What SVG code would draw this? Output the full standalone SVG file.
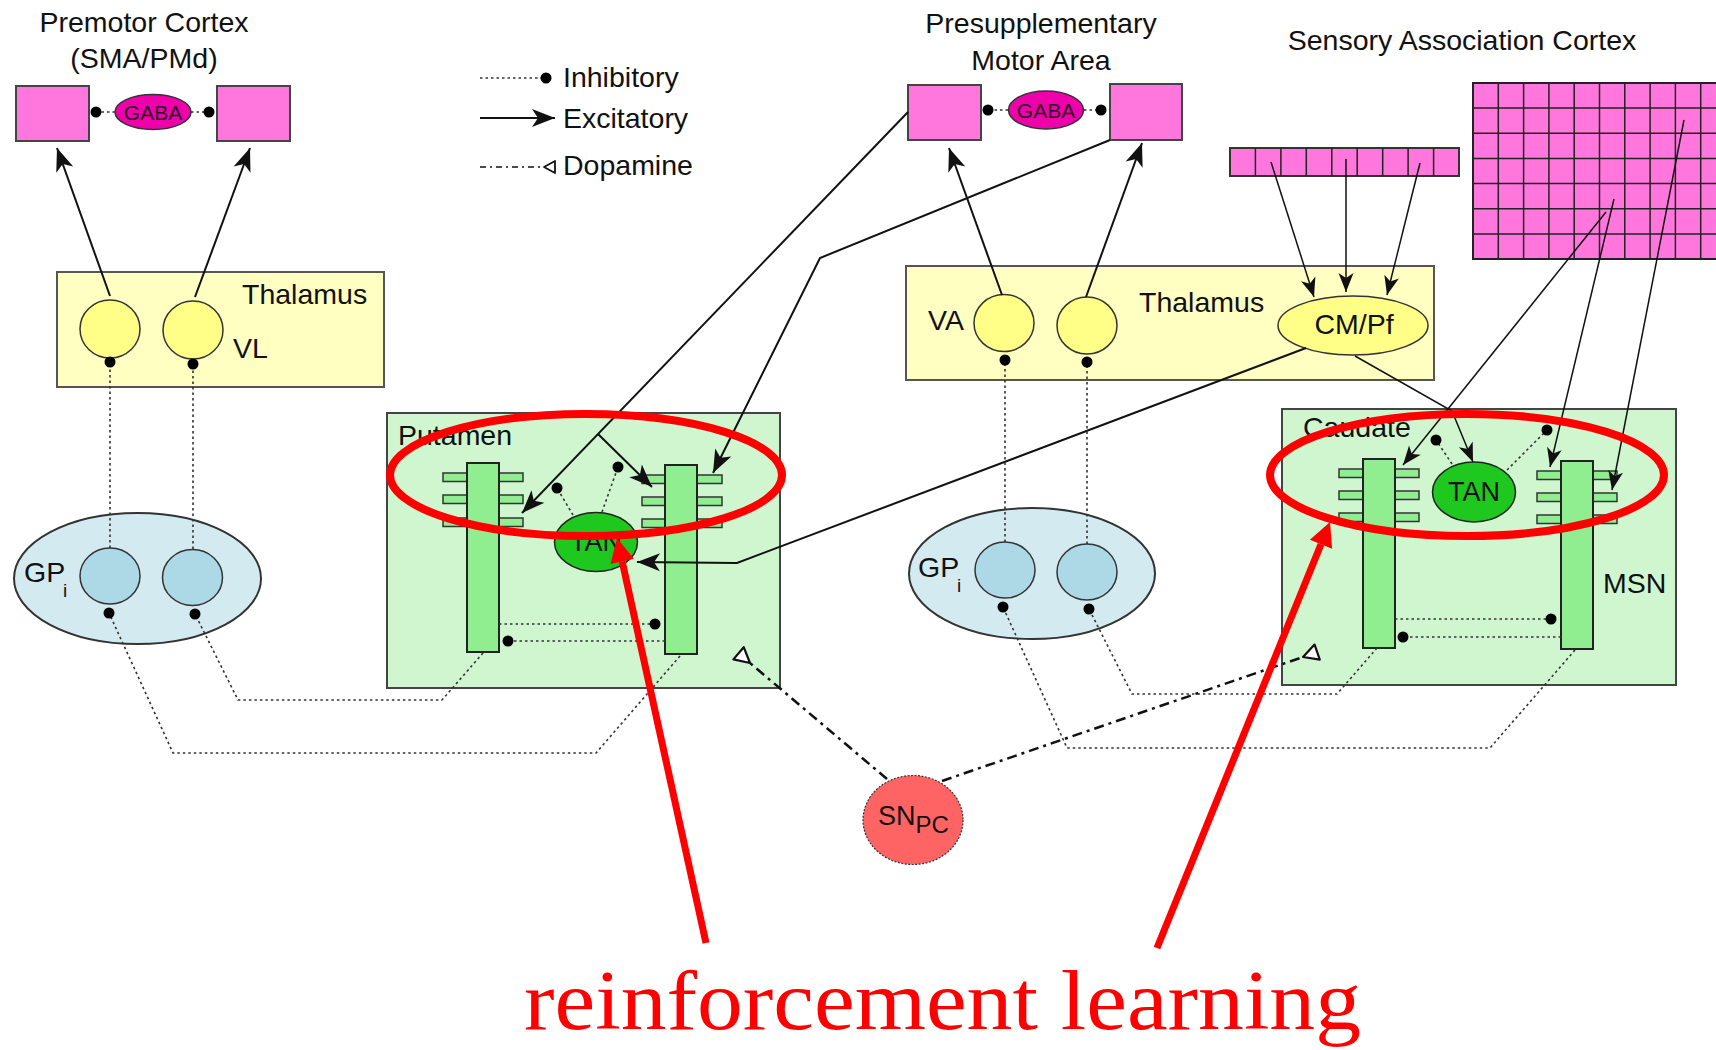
<svg xmlns="http://www.w3.org/2000/svg" width="1716" height="1050" viewBox="0 0 1716 1050">
<style>
text{font-family:"Liberation Sans",Arial,sans-serif;fill:#111}
.lbl{font-size:28.5px}
.ctr{text-anchor:middle}
.ctx{fill:#ff77dd;stroke:#444;stroke-width:2}
.gaba{fill:#ee00aa;stroke:#333;stroke-width:1.5}
.gabat{font-size:21px;fill:#2a0022;text-anchor:middle}
.thal{fill:#ffffc2;stroke:#555;stroke-width:2}
.ycell{fill:#ffff88;stroke:#333;stroke-width:1.5}
.str{fill:#d0f6d0;stroke:#444;stroke-width:2}
.bar{fill:#90ee90;stroke:#222;stroke-width:2}
.sp{fill:#90ee90;stroke:#333;stroke-width:1.5}
.tan{fill:#1fc81f;stroke:#222;stroke-width:1.5}
.gpi{fill:#d4eaf1;stroke:#333;stroke-width:2}
.gcell{fill:#add8e6;stroke:#333;stroke-width:1.5}
.grid{stroke:#222;stroke-width:1.5;fill:none}
.exc{stroke:#111;stroke-width:2;fill:none;marker-end:url(#arr)}
.exc2{stroke:#111;stroke-width:1.5;fill:none;marker-end:url(#arr2)}
.inh{stroke:#333;stroke-width:1.6;stroke-dasharray:2.5 3;fill:none;marker-end:url(#dot)}
.dop{stroke:#111;stroke-width:2.5;stroke-dasharray:10 5 3 5;fill:none;marker-end:url(#da)}
.red{stroke:#ff0000;stroke-width:8;fill:none}
.redar{stroke:#ff0000;stroke-width:7;fill:none;marker-end:url(#rarr)}
</style>
<defs>
<marker id="arr" markerUnits="userSpaceOnUse" markerWidth="26" markerHeight="22" viewBox="-25 -11 26 22" refX="0" refY="0" orient="auto"><path d="M0,0 L-23,-9 L-17,0 L-23,9 Z" fill="#111"/></marker>
<marker id="arr2" markerUnits="userSpaceOnUse" markerWidth="22" markerHeight="18" viewBox="-21 -9 22 18" refX="0" refY="0" orient="auto"><path d="M0,0 L-19,-7.5 L-14,0 L-19,7.5 Z" fill="#111"/></marker>
<marker id="dot" markerUnits="userSpaceOnUse" markerWidth="14" markerHeight="14" viewBox="-7 -7 14 14" refX="0" refY="0"><circle r="5.5" fill="#000"/></marker>
<marker id="da" markerUnits="userSpaceOnUse" markerWidth="20" markerHeight="20" viewBox="-2 -10 20 20" refX="0" refY="0" orient="auto"><path d="M0,0 L15,-8 L15,8 Z" fill="#fff" stroke="#111" stroke-width="2.2" stroke-linejoin="round"/></marker>
<marker id="da-s" markerUnits="userSpaceOnUse" markerWidth="16" markerHeight="16" viewBox="-2 -8 16 16" refX="0" refY="0" orient="auto"><path d="M0,0 L11,-6 L11,6 Z" fill="#fff" stroke="#111" stroke-width="1.8" stroke-linejoin="round"/></marker>
<marker id="rarr" markerUnits="userSpaceOnUse" markerWidth="28" markerHeight="28" viewBox="-2 -14 28 28" refX="0" refY="0" orient="auto"><path d="M0,-12 L24,0 L0,12 Z" fill="#ff0000"/></marker>
</defs>
<rect width="1716" height="1050" fill="#fff"/>

<!-- Premotor cortex -->
<g id="premotor-cortex">
<text class="lbl ctr" x="144" y="32">Premotor Cortex</text>
<text class="lbl ctr" x="144" y="68">(SMA/PMd)</text>
<rect class="ctx" x="16" y="86" width="73" height="55"/>
<rect class="ctx" x="217" y="86" width="73" height="55"/>
</g>
<g id="premotor-gaba">
<ellipse class="gaba" cx="153" cy="112" rx="38" ry="17.5"/>
<text class="gabat" x="153" y="119.5">GABA</text>
</g>

<!-- Legend -->
<g id="legend">
<path class="inh" d="M480,78 H546"/>
<text class="lbl" x="563" y="87">Inhibitory</text>
<path class="exc" d="M480,118 H555"/>
<text class="lbl" x="563" y="128">Excitatory</text>
<path class="dop" d="M480,167 H544" style="stroke-width:1.6;stroke-dasharray:6 4 2 4;marker-end:url(#da-s)"/>
<text class="lbl" x="563" y="175">Dopamine</text>
</g>

<!-- Presupplementary motor area -->
<g id="presma">
<text class="lbl ctr" x="1041" y="33">Presupplementary</text>
<text class="lbl ctr" x="1041" y="70">Motor Area</text>
<rect class="ctx" x="908" y="85" width="73" height="55"/>
<rect class="ctx" x="1110" y="84" width="72" height="56"/>
</g>
<g id="presma-gaba">
<ellipse class="gaba" cx="1046" cy="110" rx="37.5" ry="19"/>
<text class="gabat" x="1046" y="117.5">GABA</text>
</g>

<!-- Sensory association cortex -->
<g id="sensory-cortex">
<text class="lbl ctr" x="1462" y="50">Sensory Association Cortex</text>
<rect x="1473" y="83" width="260" height="176" fill="#ff77dd" stroke="#222" stroke-width="2"/>
<path class="grid" d="M1473,108.1H1716M1473,133.3H1716M1473,158.4H1716M1473,183.6H1716M1473,208.7H1716M1473,233.9H1716M1498.3,83V259M1523.6,83V259M1548.9,83V259M1574.2,83V259M1599.5,83V259M1624.8,83V259M1650.1,83V259M1675.4,83V259M1700.7,83V259"/>
</g>
<g id="sensory-strip">
<rect x="1230" y="148" width="229" height="28" fill="#ff77dd" stroke="#333" stroke-width="2"/>
<path class="grid" d="M1255.4,148V176M1280.9,148V176M1306.3,148V176M1331.8,148V176M1357.2,148V176M1382.7,148V176M1408.1,148V176M1433.6,148V176"/>
</g>

<!-- Thalamus left -->
<g id="thalamus-vl">
<rect class="thal" x="57" y="272" width="327" height="115"/>
<text class="lbl" x="242" y="304">Thalamus</text>
<text class="lbl" x="233" y="358">VL</text>
<ellipse class="ycell" cx="110" cy="329" rx="30" ry="29"/>
<ellipse class="ycell" cx="193" cy="330" rx="30" ry="29"/>
</g>

<!-- Thalamus right -->
<g id="thalamus-va">
<rect class="thal" x="906" y="266" width="528" height="114"/>
<text class="lbl" x="1139" y="312">Thalamus</text>
<text class="lbl" x="928" y="330">VA</text>
<ellipse class="ycell" cx="1004" cy="323" rx="30" ry="28.5"/>
<ellipse class="ycell" cx="1087" cy="325.5" rx="30" ry="28.5"/>
</g>
<g id="cmpf">
<ellipse class="ycell" cx="1353" cy="325.5" rx="75" ry="29.5"/>
<text class="lbl ctr" x="1354" y="334">CM/Pf</text>
</g>

<!-- Putamen -->
<g id="putamen">
<rect class="str" x="387" y="413" width="393" height="275"/>
<text class="lbl" x="398" y="445">Putamen</text>
<rect class="sp" x="443" y="473" width="24" height="8.5"/>
<rect class="sp" x="443" y="495" width="24" height="8.5"/>
<rect class="sp" x="443" y="518" width="24" height="8.5"/>
<rect class="sp" x="499" y="473" width="24" height="8.5"/>
<rect class="sp" x="499" y="495" width="24" height="8.5"/>
<rect class="sp" x="499" y="518" width="24" height="8.5"/>
<rect class="bar" x="467" y="463" width="32" height="189"/>
<rect class="sp" x="642" y="475" width="23" height="8.5"/>
<rect class="sp" x="642" y="497" width="23" height="8.5"/>
<rect class="sp" x="642" y="519" width="23" height="8.5"/>
<rect class="sp" x="697" y="475" width="25" height="8.5"/>
<rect class="sp" x="697" y="497" width="25" height="8.5"/>
<rect class="sp" x="697" y="519" width="25" height="8.5"/>
<rect class="bar" x="665" y="465" width="32" height="189"/>
</g>
<g id="putamen-tan">
<ellipse class="tan" cx="596" cy="542" rx="41.5" ry="29.5"/>
<text class="ctr" x="596" y="551" style="font-size:27px">TAN</text>
</g>

<!-- Caudate -->
<g id="caudate">
<rect class="str" x="1282" y="409" width="394" height="276"/>
<text class="lbl" x="1303" y="437">Caudate</text>
<text class="lbl" x="1603" y="593">MSN</text>
<rect class="sp" x="1339" y="469" width="24" height="8.5"/>
<rect class="sp" x="1339" y="491" width="24" height="8.5"/>
<rect class="sp" x="1339" y="513" width="24" height="8.5"/>
<rect class="sp" x="1395" y="469" width="24" height="8.5"/>
<rect class="sp" x="1395" y="491" width="24" height="8.5"/>
<rect class="sp" x="1395" y="513" width="24" height="8.5"/>
<rect class="bar" x="1363" y="459" width="32" height="189"/>
<rect class="sp" x="1537" y="471" width="24" height="8.5"/>
<rect class="sp" x="1537" y="493" width="24" height="8.5"/>
<rect class="sp" x="1537" y="515" width="24" height="8.5"/>
<rect class="sp" x="1593" y="471" width="24" height="8.5"/>
<rect class="sp" x="1593" y="493" width="24" height="8.5"/>
<rect class="sp" x="1593" y="515" width="24" height="8.5"/>
<rect class="bar" x="1561" y="461" width="32" height="188"/>
</g>
<g id="caudate-tan">
<ellipse class="tan" cx="1474" cy="492" rx="41.5" ry="30"/>
<text class="ctr" x="1474" y="501" style="font-size:27px">TAN</text>
</g>

<!-- GPi left -->
<g id="gpi-left">
<ellipse class="gpi" cx="137.5" cy="578.5" rx="123.5" ry="65.5"/>
<text class="lbl" x="24" y="582">GP</text>
<text x="63" y="597" style="font-size:19px">i</text>
<ellipse class="gcell" cx="110" cy="576" rx="30" ry="28"/>
<ellipse class="gcell" cx="192.5" cy="577.5" rx="30" ry="28"/>
</g>
<!-- GPi right -->
<g id="gpi-right">
<ellipse class="gpi" cx="1032" cy="573.5" rx="123" ry="65.5"/>
<text class="lbl" x="918" y="577">GP</text>
<text x="957" y="592" style="font-size:19px">i</text>
<ellipse class="gcell" cx="1005" cy="570" rx="30" ry="28"/>
<ellipse class="gcell" cx="1087" cy="572" rx="30" ry="28"/>
</g>

<!-- SNpc -->
<g id="snpc">
<ellipse cx="913" cy="820" rx="50" ry="44.5" fill="#ff6464" stroke="#333" stroke-width="1.2" stroke-dasharray="2 1.5"/>
<text x="878" y="825" style="font-size:27px">SN<tspan y="833" style="font-size:24px">PC</tspan></text>
</g>

<!-- Connectors -->
<g id="connectors">
<path class="exc" d="M110,296 L57,148"/>
<path class="exc" d="M195,297 L250,148"/>
<path class="exc" d="M1002,295 L949,148"/>
<path class="exc" d="M1086,297 L1142,143"/>
<path class="inh" d="M115,112 H96"/>
<path class="inh" d="M191,112 H209"/>
<path class="inh" d="M1008,110 H988"/>
<path class="inh" d="M1084,110 H1101"/>
<path class="exc2" d="M1271,162 L1314,297"/>
<path class="exc2" d="M1346,159 L1346,292"/>
<path class="exc2" d="M1420,163 L1387,295"/>
<path class="exc" d="M908,112 L522,513"/>
<path class="exc" d="M598,434 L652,487"/>
<path class="exc" d="M1110,140 L820,258 L713,473"/>
<path class="exc" d="M1306,348 L737,563 L637,562"/>
<path class="exc2" d="M1355,356 L1452,411 L1473,462"/>
<path class="exc2" d="M1606,212 L1403,465"/>
<path class="exc2" d="M1614,199 L1550,467"/>
<path class="exc2" d="M1684,120 L1612,490"/>
<path class="inh" d="M110,548 V362"/>
<path class="inh" d="M193,549 V364"/>
<path class="inh" d="M1005,542 V360"/>
<path class="inh" d="M1087,544 V362"/>
<path class="inh" d="M573,515 L557,488"/>
<path class="inh" d="M602,512 L618,467"/>
<path class="inh" d="M1452,464 L1436,440"/>
<path class="inh" d="M1507,470 L1547,430"/>
<path class="inh" d="M499,624 H655"/>
<path class="inh" d="M665,641 H508"/>
<path class="inh" d="M1395,619 H1551"/>
<path class="inh" d="M1561,637 H1403"/>
<path class="inh" d="M680,656 L596,753 H173 L109,613"/>
<path class="inh" d="M483,653 L442,700 H238 L195,614"/>
<path class="inh" d="M1575,650 L1490,748 H1067 L1003,607"/>
<path class="inh" d="M1377,648 L1337,694 H1132 L1089,609"/>
<path class="dop" d="M887,779 L750,663"/>
<path class="dop" d="M942,781 L1303,657"/>
</g>

<!-- Annotation -->
<g id="annotation">
<ellipse class="red" cx="586" cy="475" rx="196" ry="61"/>
<ellipse class="red" cx="1467" cy="475" rx="197" ry="61"/>
<path class="redar" d="M706,943 L622.2,561.4"/>
<path class="redar" d="M1157,948 L1321,544.2"/>
<text x="524" y="1029" textLength="837" lengthAdjust="spacingAndGlyphs" style="font-family:'Liberation Serif','Times New Roman',serif;font-size:84px;fill:#ff0000">reinforcement learning</text>
</g>
</svg>
